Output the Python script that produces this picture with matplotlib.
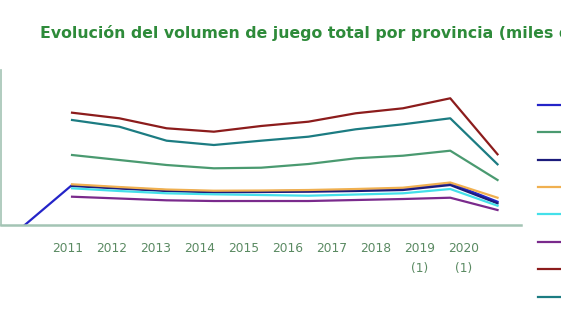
import numpy as np
import matplotlib.pyplot as plt

# categorias (la primera sin etiqueta) y años
years = ["", "2011", "2012", "2013", "2014", "2015", "2016", "2017", "2018", "2019\n(1)", "2020\n(1)"]

# volumen de juego total (miles de euros)
almeria = [0, 400000, 372000, 348000, 335000, 338000, 342000, 350000, 362000, 418000, 233000]
cadiz = [np.nan, 700000, 650000, 600000, 567000, 573000, 610000, 667000, 693000, 743000, 450000]
cordoba = [np.nan, 390000, 365000, 340000, 327000, 330000, 333000, 340000, 350000, 400000, 217000]
granada = [np.nan, 407000, 380000, 355000, 343000, 345000, 350000, 360000, 373000, 425000, 273000]
huelva = [np.nan, 367000, 340000, 317000, 307000, 300000, 293000, 305000, 317000, 360000, 193000]
jaen = [np.nan, 283000, 265000, 247000, 240000, 240000, 240000, 250000, 260000, 273000, 150000]
malaga = [np.nan, 1123000, 1067000, 967000, 933000, 990000, 1033000, 1117000, 1167000, 1267000, 707000]
sevilla = [np.nan, 1050000, 983000, 843000, 800000, 843000, 883000, 957000, 1007000, 1067000, 607000]

provincias = ["Almería", "Cádiz", "Córdoba", "Granada", "Huelva", "Jaén", "Málaga", "Sevilla"]
series = [almeria, cadiz, cordoba, granada, huelva, jaen, malaga, sevilla]
colores = ["#2424c8", "#4a9a70", "#1c1c7c", "#f0b050", "#44e0ea", "#7a2a8c", "#8c1c1c", "#1c7c82"]

fig = plt.figure(figsize=(5.61, 3.21), dpi=100)
ax = fig.add_axes([0.002, 0.299, 0.927, 0.483])

x = np.arange(len(years))
for vals, nombre, c in zip(series, provincias, colores):
    ax.plot(x, vals, color=c, lw=1.6, label=nombre, solid_joinstyle="round")

ax.set_xlim(-0.5, len(years) - 0.5)
ax.set_ylim(0, 1550000)
ax.set_yticks([])

# las etiquetas del eje estan algo desplazadas respecto a las lineas en el original
label_pos = np.linspace(0.9, 9.29, 10)
ax.set_xticks(label_pos)
ax.set_xticklabels(years[1:], color="#5a8a62", fontsize=8.8, family="DejaVu Sans",
                   linespacing=1.7, va="top")
ax.tick_params(axis="x", length=0, pad=12)

for s in ["top", "right"]:
    ax.spines[s].set_visible(False)
ax.spines["bottom"].set_color("#a3c4b4")
ax.spines["bottom"].set_linewidth(1.8)
ax.spines["left"].set_color("#a3c4b4")
ax.spines["left"].set_linewidth(1.2)

fig.text(40 / 561, 1 - 33 / 321, "Evolución del volumen de juego total por provincia (miles de euros)",
         color="#2e8b3a", fontsize=11.3, fontweight="bold", family="DejaVu Sans",
         va="center", ha="left")

fig.legend(loc="upper left", bbox_to_anchor=(538 / 561, 1 - 101 / 321), frameon=False,
           handlelength=2.2, fontsize=8, labelspacing=1.55, borderpad=0, borderaxespad=0)

fig.savefig("out.png", dpi=100)
